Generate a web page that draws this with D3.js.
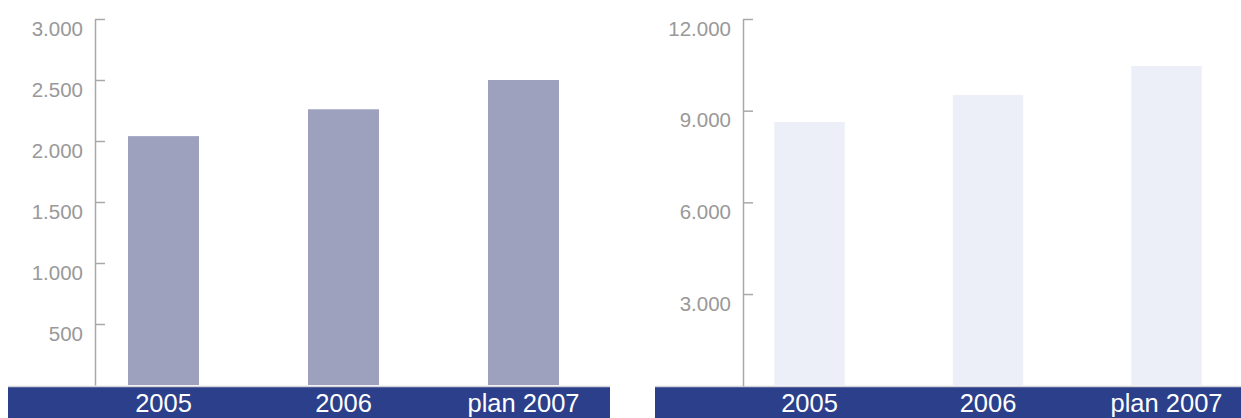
<!DOCTYPE html>
<html>
<head>
<meta charset="utf-8">
<script src="https://cdn.jsdelivr.net/npm/d3@7"></script>
<style>
  body { margin: 0; background: #fff; }
  text { font-family: "Liberation Sans", Arial, sans-serif; }
</style>
</head>
<body>
<div id="chart"></div>
<script>
// Données
const annees = ["2005", "2006", "plan 2007"];
const valeursGauche = [2040, 2260, 2500];
const valeursDroite = [8630, 9510, 10460];
const ticksGauche = [500, 1000, 1500, 2000, 2500, 3000];
const ticksDroite = [3000, 6000, 9000, 12000];

const largeur = 1241;
const hauteur = 418;

const locale = d3.formatLocale({decimal: ",", thousands: ".", grouping: [3], currency: ["", "€"]});
const fmt = locale.format(",d");

const svg = d3.select("#chart").append("svg")
    .attr("width", largeur)
    .attr("height", hauteur);

// Un panneau = un petit graphique à barres
function panneau(cfg) {
    const y = d3.scaleLinear().domain([0, cfg.max]).range([cfg.y0, 19]);
    const x = d3.scaleBand().domain(annees).range(cfg.xRange)
        .paddingInner(0.6056).paddingOuter(0.3028);

    // bandeau du bas
    svg.append("rect")
        .attr("x", cfg.bande[0]).attr("y", 386)
        .attr("width", cfg.bande[1] - cfg.bande[0]).attr("height", hauteur - 386)
        .attr("fill", "#2b3f8a");
    svg.append("line")
        .attr("x1", cfg.bande[0]).attr("x2", cfg.bande[1])
        .attr("y1", 386.5).attr("y2", 386.5)
        .attr("stroke", "#d4d4d8").attr("stroke-width", 1.5);

    // barres
    svg.append("g").selectAll("rect")
        .data(cfg.valeurs)
        .join("rect")
        .attr("x", (d, i) => x(annees[i]))
        .attr("width", x.bandwidth())
        .attr("y", d => y(d))
        .attr("height", d => y(0) - y(d))
        .attr("fill", cfg.couleur);

    // axe
    const axe = svg.append("g")
        .attr("transform", `translate(${cfg.axeX},0)`)
        .call(d3.axisRight(y).tickValues(cfg.ticks).tickFormat(fmt).tickSize(10).tickSizeOuter(0));
    axe.select(".domain").attr("stroke", "#a8a8a8").attr("stroke-width", 1.5);
    axe.selectAll(".tick line").attr("stroke", "#a8a8a8").attr("stroke-width", 1.5);
    axe.selectAll(".tick text")
        .attr("x", -12).attr("y", 16).attr("dy", null)
        .attr("text-anchor", "end")
        .attr("fill", "#999")
        .style("font-size", "20.5px");

    // libellés des années
    svg.append("g").selectAll("text")
        .data(annees)
        .join("text")
        .attr("x", d => x(d) + x.bandwidth() / 2)
        .attr("y", 412)
        .attr("text-anchor", "middle")
        .attr("fill", "#fff")
        .style("font-size", "25.5px")
        .text(d => d);
}

panneau({valeurs: valeursGauche, ticks: ticksGauche, max: 3000, y0: 385,
    xRange: [73.5, 613.5], axeX: 95, bande: [8, 610], couleur: "#9da1bd"});
panneau({valeurs: valeursDroite, ticks: ticksDroite, max: 12000, y0: 385.7,
    xRange: [720.25, 1255.75], axeX: 743, bande: [655, 1241], couleur: "#eceff7"});
</script>
</body>
</html>
